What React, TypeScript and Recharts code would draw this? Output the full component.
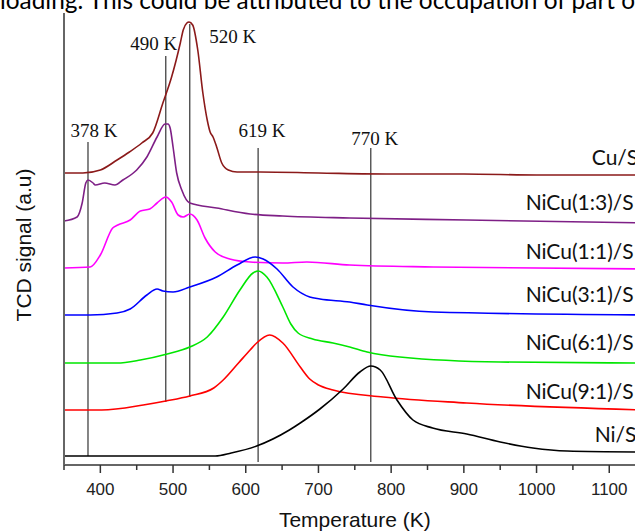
import React from 'react';
import { LineChart, Line, XAxis, YAxis, ReferenceLine, ReferenceDot, Label } from 'recharts';

// H2-TPR profiles, temperature (K) vs TCD signal (a.u., curves stacked)
const cuProfile: [number, number][] = [
  [350, 292], [376, 292], [400, 295], [423, 305], [440, 313], [457, 322], [472, 332],
  [486, 362], [498, 388], [510, 422], [514, 435], [519, 442], [522, 443], [527, 440],
  [534, 415], [541, 372], [547, 345], [551, 333], [555, 328], [560, 318], [567, 302],
  [576, 295], [588, 293], [620, 293], [700, 292], [800, 291], [900, 291], [1000, 290], [1150, 290],
];
const nicu13Profile: [number, number][] = [
  [350, 244], [368, 248], [375, 262], [380, 282], [383, 285], [390, 282], [393, 280],
  [406, 282], [420, 280], [431, 285], [450, 295], [464, 308], [478, 328], [489, 341],
  [493, 341], [496, 337], [500, 318], [505, 292], [512, 275], [523, 262], [560, 257],
  [606, 251], [651, 249], [743, 247], [904, 245], [1150, 242],
];
const nicu11Profile: [number, number][] = [
  [350, 197], [386, 198], [400, 210], [417, 237], [424, 240], [441, 245], [455, 254],
  [468, 256], [478, 262], [490, 268], [498, 263], [507, 250], [514, 248], [523, 251],
  [533, 245], [544, 227], [558, 213], [578, 206], [606, 203], [651, 202], [684, 203],
  [743, 200], [858, 198], [1150, 196],
];
const nicu31Profile: [number, number][] = [
  [350, 150], [386, 150], [423, 152], [441, 156], [464, 170], [478, 176], [486, 174],
  [500, 173], [523, 178], [560, 188], [588, 200], [613, 208], [624, 206], [643, 196],
  [665, 178], [688, 168], [702, 166], [743, 163], [767, 160], [858, 153], [1150, 150],
];
const nicu61Profile: [number, number][] = [
  [350, 102], [423, 102], [455, 105], [492, 111], [523, 118], [547, 128], [569, 148],
  [592, 175], [610, 192], [617, 194], [629, 188], [651, 158], [662, 141], [672, 132],
  [692, 126], [720, 122], [743, 118], [767, 113], [812, 108], [950, 103], [1150, 102],
];
const nicu91Profile: [number, number][] = [
  [350, 55], [402, 55], [459, 60], [490, 64], [523, 69], [556, 77], [569, 85], [590, 102],
  [606, 115], [615, 122], [633, 130], [651, 122], [675, 98], [688, 86], [700, 80],
  [720, 75], [789, 68], [904, 62], [1150, 55],
];
const niProfile: [number, number][] = [
  [350, 9], [558, 9], [580, 12], [615, 19], [660, 35], [675, 42], [702, 56], [734, 76],
  [757, 93], [772, 99], [785, 95], [808, 65], [830, 45], [857, 37], [904, 31], [950, 23],
  [995, 17], [1042, 14], [1150, 13],
];

const seriesNames = ['Cu/S', 'NiCu(1:3)/S', 'NiCu(1:1)/S', 'NiCu(3:1)/S', 'NiCu(6:1)/S', 'NiCu(9:1)/S', 'Ni/S'];
const profiles = [cuProfile, nicu13Profile, nicu11Profile, nicu31Profile, nicu61Profile, nicu91Profile, niProfile];
const colors = ['#8b1a1a', '#7e1f86', '#ff00ff', '#0000ff', '#00e600', '#ff0000', '#000000'];

const majorTicks = [400, 500, 600, 700, 800, 900, 1000, 1100];
const allTicks = [350, 400, 450, 500, 550, 600, 650, 700, 750, 800, 850, 900, 950, 1000, 1050, 1100, 1150];

// peak markers: temperature, label, signal range of the vertical line
const peakMarks = [
  { t: 383, text: '378 K', from: 9, to: 323 },
  { t: 490, text: '490 K', from: 63, to: 409 },
  { t: 523, text: '520 K', from: 68, to: 441 },
  { t: 617, text: '619 K', from: 3, to: 317 },
  { t: 772, text: '770 K', from: 3, to: 317 },
];
const peakLabelShift = [[6, -5], [-12, -6], [43, 19], [4, -11], [4, -3]];

// where the series names sit (temperature, signal)
const nameAnchors: [number, number][] = [
  [1076, 307], [985, 262], [985, 213], [985, 170], [985, 122], [985, 73], [1080, 30],
];

const pageText = 'loading. This could be attributed to the occupation of part o';

const sans = 'Liberation Sans, Arial, sans-serif';

const XTick = (props: any) => {
  const { x, y, payload } = props;
  const major = majorTicks.includes(payload.value);
  return (
    <g>
      <line x1={x} y1={y} x2={x} y2={y + (major ? 8 : 5)} stroke="#333" strokeWidth={1.5} />
      {major && (
        <text x={x} y={y + 30} textAnchor="middle" fontSize={17} fontFamily={sans} fill="#222">
          {payload.value}
        </text>
      )}
    </g>
  );
};

export default function App() {
  return (
    <div style={{ position: 'absolute', left: 0, top: 0, width: 635, height: 532, overflow: 'hidden', background: '#fff' }}>
      <div style={{ position: 'absolute', left: 0, top: -13, fontFamily: 'Lato, sans-serif', fontSize: 24.4, lineHeight: '25px', whiteSpace: 'nowrap', color: '#000' }}>
        {pageText}
      </div>
      <div style={{ position: 'absolute', left: 0, top: 0 }}>
        <LineChart width={700} height={532} margin={{ top: 13, right: 54.4, bottom: 5, left: 24 }}>
          <XAxis
            type="number"
            dataKey="t"
            domain={[350, 1150]}
            ticks={allTicks}
            interval={0}
            tickSize={0}
            tickMargin={0}
            tickLine={false}
            tick={<XTick />}
            height={62}
            axisLine={{ stroke: '#333', strokeWidth: 1.5 }}
            allowDataOverflow
          >
            <Label value="Temperature (K)" position="insideBottom" offset={0} fontSize={21} fontFamily={sans} fill="#111" />
          </XAxis>
          <XAxis
            xAxisId="top"
            orientation="top"
            type="number"
            dataKey="t"
            domain={[350, 1150]}
            height={0}
            tick={false}
            tickLine={false}
            axisLine={{ stroke: '#555', strokeWidth: 1.5 }}
          />
          <YAxis
            type="number"
            domain={[0, 452]}
            ticks={[263]}
            tick={false}
            tickSize={9}
            width={40}
            axisLine={{ stroke: '#666', strokeWidth: 2 }}
            tickLine={{ stroke: '#444', strokeWidth: 1.5 }}
            allowDataOverflow
          >
            <Label value="TCD signal (a.u)" angle={-90} position="center" dx={-20} dy={6} fontSize={21} fontFamily={sans} fill="#111" />
          </YAxis>

          {peakMarks.map((m, i) => (
            <ReferenceLine
              key={m.text}
              segment={[{ x: m.t, y: m.from }, { x: m.t, y: m.to }]}
              stroke="#333"
              strokeWidth={1.2}
              label={{
                value: m.text,
                position: 'top',
                offset: 0,
                dx: peakLabelShift[i][0],
                dy: peakLabelShift[i][1],
                fontSize: 19,
                fontFamily: 'Liberation Serif, Times New Roman, serif',
                fill: '#111',
              }}
            />
          ))}

          {profiles.map((p, i) => (
            <Line
              key={seriesNames[i]}
              data={p.map(([t, v]) => ({ t, v }))}
              dataKey="v"
              type="monotone"
              stroke={colors[i]}
              strokeWidth={1.6}
              dot={false}
              activeDot={false}
              isAnimationActive={false}
            />
          ))}

          {nameAnchors.map(([t, v], i) => (
            <ReferenceDot
              key={'n' + i}
              x={t}
              y={v}
              r={0}
              fill="none"
              stroke="none"
              label={{ value: seriesNames[i], position: 'right', offset: 0, fontSize: 21, fontFamily: 'Lato, sans-serif', fill: '#111' }}
            />
          ))}
        </LineChart>
      </div>
    </div>
  );
}
